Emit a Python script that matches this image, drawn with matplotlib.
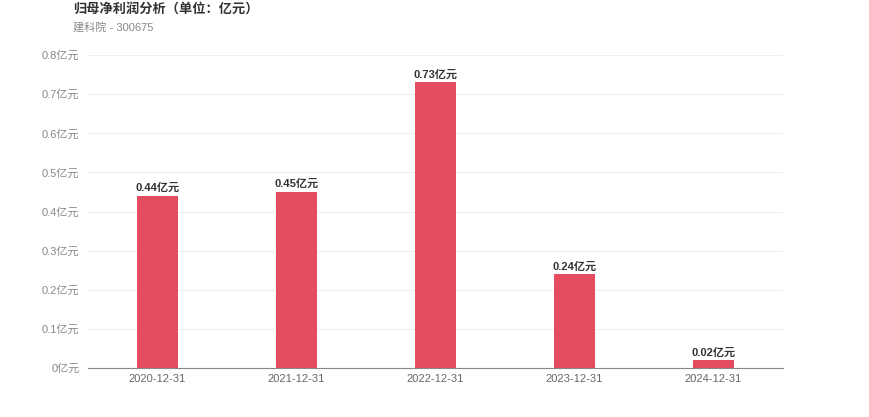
import matplotlib
matplotlib.use('Agg')
import matplotlib.pyplot as plt

plt.rcParams['font.family'] = ['Liberation Sans', 'Noto Sans CJK SC', 'DejaVu Sans']

dates = ['2020-12-31', '2021-12-31', '2022-12-31', '2023-12-31', '2024-12-31']
profit = [0.44, 0.45, 0.73, 0.24, 0.02]
yticks = [0, 0.1, 0.2, 0.3, 0.4, 0.5, 0.6, 0.7, 0.8]
ytick_labels = ['0亿元', '0.1亿元', '0.2亿元', '0.3亿元', '0.4亿元',
                '0.5亿元', '0.6亿元', '0.7亿元', '0.8亿元']

fig = plt.figure(figsize=(8.7, 4.17), dpi=100)
ax = fig.add_axes([0.101, 0.1175, 0.799, 0.7505])

x = range(len(dates))
ax.bar(x, profit, width=0.3, color='#e44c5f', zorder=3)

for i, v in enumerate(profit):
    ax.text(i, v + 0.007, f'{v:.2f}亿元', ha='center', va='bottom',
            fontsize=8, fontweight='bold', color='#333333')

ax.set_xlim(-0.5, len(dates) - 0.5)
ax.set_ylim(0, 0.8)
ax.set_xticks(list(x))
ax.set_xticklabels(dates, fontsize=8, color='#666666')
ax.set_yticks(yticks)
ax.set_yticklabels(ytick_labels, fontsize=8, color='#888888')
ax.tick_params(axis='both', length=0, pad=4)
ax.tick_params(axis='y', pad=6)
ax.grid(axis='y', color='#eeeeee', linewidth=0.8, zorder=0)

for s in ['top', 'right', 'left']:
    ax.spines[s].set_visible(False)
ax.spines['bottom'].set_color('#888888')
ax.spines['bottom'].set_linewidth(0.8)

fig.text(73 / 870, 1 - 9 / 417, '归母净利润分析（单位：亿元）', fontsize=9.5,
         fontweight='bold', color='#333333', ha='left', va='center')
fig.text(73 / 870, 1 - 27 / 417, '建科院 - 300675', fontsize=8,
         color='#888888', ha='left', va='center')

fig.savefig('out.png', dpi=100)
